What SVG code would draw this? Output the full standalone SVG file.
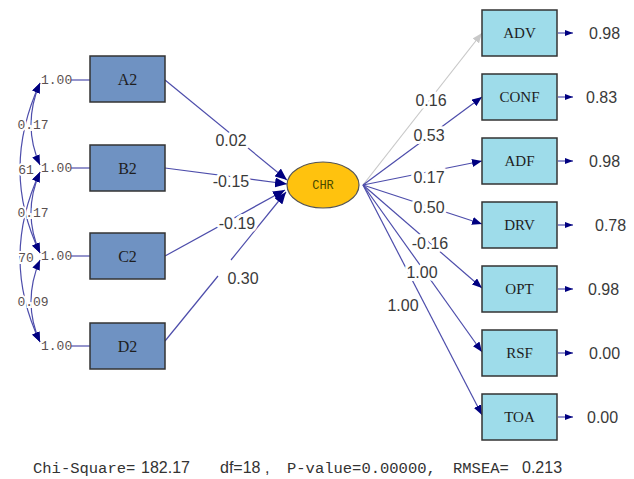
<svg xmlns="http://www.w3.org/2000/svg" width="634" height="479" viewBox="0 0 634 479">
<style>
.lb{fill:#6f92c2;stroke:#333;stroke-width:1.5}
.rb{fill:#9edcea;stroke:#333;stroke-width:1.5}
.bl{font-family:"Liberation Serif","Times New Roman",serif;font-size:16px;fill:#1e1e1e;text-anchor:middle}
.br{font-family:"Liberation Serif","Times New Roman",serif;font-size:15px;fill:#1e1e1e;text-anchor:middle}
.ln{stroke:#4d4dab;stroke-width:1.2;fill:none}
.lbl{font-family:"Liberation Sans",Arial,sans-serif;font-size:16px;fill:#3a3a3a;text-anchor:middle;stroke:#fff;stroke-width:6;paint-order:stroke;stroke-linejoin:round}
.val{font-family:"Liberation Sans",Arial,sans-serif;font-size:16px;fill:#3a3a3a}
.sm{font-family:"Liberation Mono","Courier New",monospace;font-size:13px;fill:#5a5050}
.smh{font-family:"Liberation Mono","Courier New",monospace;font-size:13px;fill:#5a5050;text-anchor:middle;stroke:#fff;stroke-width:4;paint-order:stroke}
.mono{font-family:"Liberation Mono","Courier New",monospace;font-size:15.5px;fill:#333}
.sans{font-family:"Liberation Sans",Arial,sans-serif;font-size:16px;fill:#333}
</style>
<defs>
<marker id="aL" markerUnits="userSpaceOnUse" markerWidth="13" markerHeight="10" refX="12" refY="5" orient="auto"><path d="M0,0 L12,5 L0,10 z" fill="#000080"/></marker>
<marker id="aR" markerUnits="userSpaceOnUse" markerWidth="11" markerHeight="8" refX="10" refY="4" orient="auto"><path d="M0,0 L10,4 L0,8 z" fill="#000080"/></marker>
<marker id="aG" markerUnits="userSpaceOnUse" markerWidth="11" markerHeight="8" refX="10" refY="4" orient="auto"><path d="M0,0 L10,4 L0,8 z" fill="#c8c8c8"/></marker>
<marker id="aC" markerUnits="userSpaceOnUse" markerWidth="11" markerHeight="8" refX="10" refY="4" orient="auto-start-reverse"><path d="M0,0 L10,4 L0,8 z" fill="#000080"/></marker>
<marker id="aE" markerUnits="userSpaceOnUse" markerWidth="9" markerHeight="6" refX="8" refY="3" orient="auto"><path d="M0,0 L8,3 L0,6 z" fill="#000080"/></marker>
</defs>
<rect width="634" height="479" fill="#fff"/>

<g id="connectors">
<path class="ln" d="M40,83 Q0,170 40,253" marker-start="url(#aC)" marker-end="url(#aC)"/>
<path class="ln" d="M40,172 Q0,258 40,342" marker-start="url(#aC)" marker-end="url(#aC)"/>
<path class="ln" d="M40,83 Q22,125 40,165" marker-start="url(#aC)" marker-end="url(#aC)"/>
<path class="ln" d="M40,172 Q22,213 40,253" marker-start="url(#aC)" marker-end="url(#aC)"/>
<path class="ln" d="M40,260 Q22,302 40,342" marker-start="url(#aC)" marker-end="url(#aC)"/>
<line class="ln" x1="71" y1="80" x2="90" y2="80"/>
<line class="ln" x1="71" y1="168" x2="90" y2="168"/>
<line class="ln" x1="71" y1="256" x2="90" y2="256"/>
<line class="ln" x1="71" y1="346" x2="90" y2="346"/>
<line class="ln" x1="165" y1="80" x2="287" y2="180" marker-end="url(#aL)"/>
<line class="ln" x1="165" y1="168" x2="287" y2="184" marker-end="url(#aL)"/>
<line class="ln" x1="165" y1="256" x2="285" y2="190" marker-end="url(#aL)"/>
<line class="ln" x1="165" y1="341" x2="218" y2="276"/>
<line class="ln" x1="231" y1="260" x2="286" y2="192" marker-end="url(#aL)"/>
<line x1="363" y1="185" x2="482" y2="33" stroke="#c8c8c8" stroke-width="1.2" marker-end="url(#aG)"/>
<line class="ln" x1="363" y1="185" x2="482" y2="97" marker-end="url(#aR)"/>
<line class="ln" x1="363" y1="185" x2="482" y2="161" marker-end="url(#aR)"/>
<line class="ln" x1="363" y1="185" x2="482" y2="224" marker-end="url(#aR)"/>
<line class="ln" x1="363" y1="185" x2="482" y2="288" marker-end="url(#aR)"/>
<line class="ln" x1="363" y1="185" x2="482" y2="352" marker-end="url(#aR)"/>
<line class="ln" x1="363" y1="185" x2="482" y2="415" marker-end="url(#aR)"/>
<line class="ln" x1="558" y1="33" x2="573" y2="33" marker-end="url(#aE)"/>
<line class="ln" x1="558" y1="97" x2="573" y2="97" marker-end="url(#aE)"/>
<line class="ln" x1="558" y1="161" x2="573" y2="161" marker-end="url(#aE)"/>
<line class="ln" x1="558" y1="225" x2="573" y2="225" marker-end="url(#aE)"/>
<line class="ln" x1="558" y1="289" x2="573" y2="289" marker-end="url(#aE)"/>
<line class="ln" x1="558" y1="353" x2="573" y2="353" marker-end="url(#aE)"/>
<line class="ln" x1="558" y1="417" x2="573" y2="417" marker-end="url(#aE)"/>
</g>

<g id="conn-labels">
<text class="smh" x="33" y="129">0.17</text>
<text class="smh" x="26" y="174">61</text>
<text class="smh" x="33" y="217">0.17</text>
<text class="smh" x="26" y="262">70</text>
<text class="smh" x="33" y="306">0.09</text>
<text class="sm" x="41" y="84">1.00</text>
<text class="sm" x="41" y="172">1.00</text>
<text class="sm" x="41" y="260">1.00</text>
<text class="sm" x="41" y="350">1.00</text>
<text class="lbl" x="231" y="146">0.02</text>
<text class="lbl" x="231" y="187">-0.15</text>
<text class="lbl" x="237" y="229">-0.19</text>
<text class="lbl" x="243" y="284">0.30</text>
<text class="lbl" x="431" y="106">0.16</text>
<text class="lbl" x="429" y="141">0.53</text>
<text class="lbl" x="429" y="183">0.17</text>
<text class="lbl" x="429" y="213">0.50</text>
<text class="lbl" x="430" y="249">-0.16</text>
<text class="lbl" x="422" y="278">1.00</text>
<text class="lbl" x="403" y="311">1.00</text>
</g>

<g id="A2"><rect class="lb" x="90" y="56" width="75" height="46"/><text class="bl" x="127.5" y="85">A2</text></g>
<g id="B2"><rect class="lb" x="90" y="145" width="75" height="46"/><text class="bl" x="127.5" y="174">B2</text></g>
<g id="C2"><rect class="lb" x="90" y="233" width="75" height="46"/><text class="bl" x="127.5" y="262">C2</text></g>
<g id="D2"><rect class="lb" x="90" y="323" width="75" height="46"/><text class="bl" x="127.5" y="352">D2</text></g>

<g id="CHR"><ellipse cx="323" cy="185" rx="36" ry="23" fill="#ffc20e" stroke="#555" stroke-width="1.2"/><text x="323" y="189" font-family="Liberation Mono,monospace" font-size="12" fill="#4a4a00" text-anchor="middle">CHR</text></g>

<g id="ADV"><rect class="rb" x="482" y="10" width="75" height="46"/><text class="br" x="519.5" y="38">ADV</text><text class="val" x="589" y="39">0.98</text></g>
<g id="CONF"><rect class="rb" x="482" y="74" width="75" height="46"/><text class="br" x="519.5" y="102">CONF</text><text class="val" x="586" y="103">0.83</text></g>
<g id="ADF"><rect class="rb" x="482" y="138" width="75" height="46"/><text class="br" x="519.5" y="166">ADF</text><text class="val" x="589" y="167">0.98</text></g>
<g id="DRV"><rect class="rb" x="482" y="202" width="75" height="46"/><text class="br" x="519.5" y="230">DRV</text><text class="val" x="595" y="231">0.78</text></g>
<g id="OPT"><rect class="rb" x="482" y="266" width="75" height="46"/><text class="br" x="519.5" y="294">OPT</text><text class="val" x="588" y="295">0.98</text></g>
<g id="RSF"><rect class="rb" x="482" y="330" width="75" height="46"/><text class="br" x="519.5" y="358">RSF</text><text class="val" x="589" y="359">0.00</text></g>
<g id="TOA"><rect class="rb" x="482" y="394" width="75" height="46"/><text class="br" x="519.5" y="422">TOA</text><text class="val" x="587" y="423">0.00</text></g>

<g id="fit">
<text class="mono" x="33" y="473">Chi-Square=</text>
<text class="sans" x="141" y="473">182.17</text>
<text class="sans" x="220" y="473">df=18</text>
<text class="sans" x="265" y="473">,</text>
<text class="mono" x="287" y="473">P-value=0.00000,</text>
<text class="mono" x="453" y="473">RMSEA=</text>
<text class="sans" x="522" y="473">0.213</text>
</g>
</svg>
